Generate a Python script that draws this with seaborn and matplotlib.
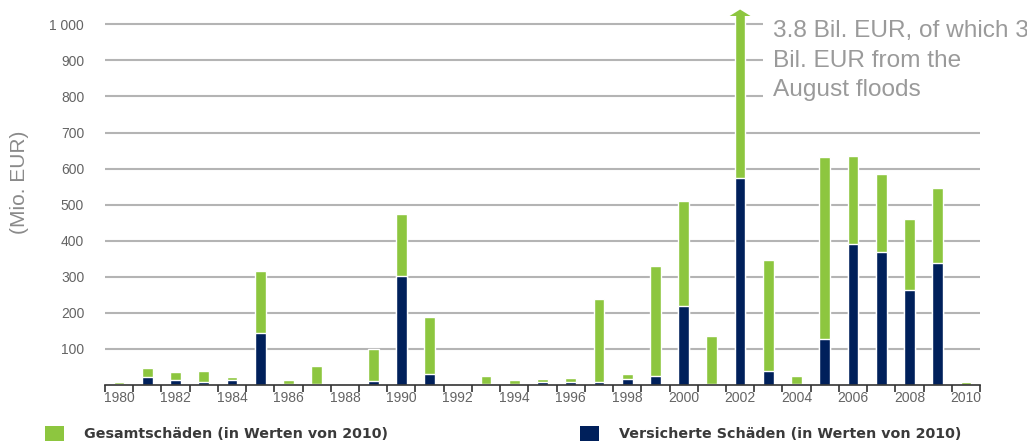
import matplotlib
matplotlib.use("Agg")
import matplotlib.pyplot as plt
from matplotlib.patches import Patch, Polygon
import seaborn as sns
import pandas as pd

# Flood damage in Germany, values in millions of EUR (2010 prices)
years = list(range(1980, 2011))
total_losses = [8, 47, 35, 40, 21, 316, 15, 52, 4, 99,
                474, 189, 4, 25, 15, 17, 20, 238, 31, 330,
                509, 135, 3800, 347, 26, 632, 636, 584, 460, 545, 7]
insured_losses = [2, 22, 14, 8, 13, 144, 4, 3, 1, 10,
                  302, 30, 3, 3, 4, 7, 7, 7, 17, 25,
                  220, 3, 574, 39, 2, 128, 391, 369, 263, 338, 1]
y_ticks = [100, 200, 300, 400, 500, 600, 700, 800, 900, 1000]
y_tick_labels = ["100", "200", "300", "400", "500", "600", "700", "800", "900", "1 000"]
label_total = "Gesamtschäden (in Werten von 2010)"
label_insured = "Versicherte Schäden (in Werten von 2010)"
note_text = "3.8 Bil. EUR, of which 3\nBil. EUR from the\nAugust floods"
note_year = 2002

GREEN = "#8dc63f"
NAVY = "#00205b"
GRID = "#b4b4b4"

df = pd.DataFrame({"year": years, "total": total_losses, "insured": insured_losses})

sns.set_theme(style="white")
plt.rcParams["font.family"] = ["Liberation Sans", "DejaVu Sans"]

fig = plt.figure(figsize=(10.27, 4.43), dpi=100)
y_top = 1023
ax = fig.add_axes([105 / 1027, 58 / 443, 875 / 1027, (385 - 16) / 443])

bar_w = 0.38
sns.barplot(data=df, x="year", y="total", color=GREEN, width=bar_w,
            saturation=1, ax=ax, zorder=3)
sns.barplot(data=df, x="year", y="insured", color=NAVY, width=bar_w,
            saturation=1, ax=ax, zorder=4)

n = len(years)
ax.set_xlim(-0.5, n - 0.5)
ax.set_ylim(0, y_top)

# horizontal gridlines
for v in y_ticks:
    ax.axhline(v, color=GRID, lw=1.5, zorder=1)

ax.set_yticks(y_ticks)
ax.set_yticklabels(y_tick_labels)
ax.tick_params(axis="y", length=0, pad=15, labelsize=10, labelcolor="#646464")

# year labels every second year, tick marks between years
major = [i for i, yr in enumerate(years) if yr % 2 == 0]
ax.set_xticks(major)
ax.set_xticklabels([str(years[i]) for i in major])
ax.set_xticks([i - 0.5 for i in range(n + 1)], minor=True)
ax.tick_params(axis="x", which="major", length=0, pad=4, labelsize=10,
               labelcolor="#646464")
ax.tick_params(axis="x", which="minor", length=5, width=1.2, color="#333333",
               direction="out", bottom=True)

for s in ["left", "right", "top"]:
    ax.spines[s].set_visible(False)
ax.spines["bottom"].set_color("#333333")
ax.spines["bottom"].set_linewidth(1.2)
ax.spines["bottom"].set_zorder(6)

ax.set_xlabel("")
ax.set_ylabel("(Mio. EUR)", fontsize=15, color="#8a8a8a")
ax.yaxis.set_label_coords(-0.087, 0.548)

# arrowhead marking the off-scale 2002 bar
xi = years.index(note_year)
head = Polygon([(xi - 0.37, y_top), (xi + 0.37, y_top), (xi, y_top + 18)],
               closed=True, facecolor=GREEN, edgecolor="none",
               clip_on=False, zorder=5)
ax.add_patch(head)

ax.text(xi + 1.17, 1012, note_text, fontsize=17.6, color="#9a9a9a",
        va="top", ha="left", linespacing=1.45, zorder=7,
        bbox=dict(facecolor="white", edgecolor="none", pad=7))

# legend entries along the bottom edge
leg_kw = dict(loc="upper left", frameon=False, borderpad=0, borderaxespad=0,
              handlelength=1.3, handleheight=1.25, handletextpad=1.4,
              prop={"family": "DejaVu Sans", "weight": "bold", "size": 10.3})
leg1 = fig.legend(handles=[Patch(facecolor=GREEN, edgecolor="none", label=label_total)],
                  bbox_to_anchor=(45 / 1027, 1 - 426 / 443), **leg_kw)
for t in leg1.get_texts():
    t.set_color("#3a3a3a")
leg2 = fig.legend(handles=[Patch(facecolor=NAVY, edgecolor="none", label=label_insured)],
                  bbox_to_anchor=(580 / 1027, 1 - 426 / 443), **leg_kw)
for t in leg2.get_texts():
    t.set_color("#3a3a3a")

fig.savefig("out.png", dpi=100)
